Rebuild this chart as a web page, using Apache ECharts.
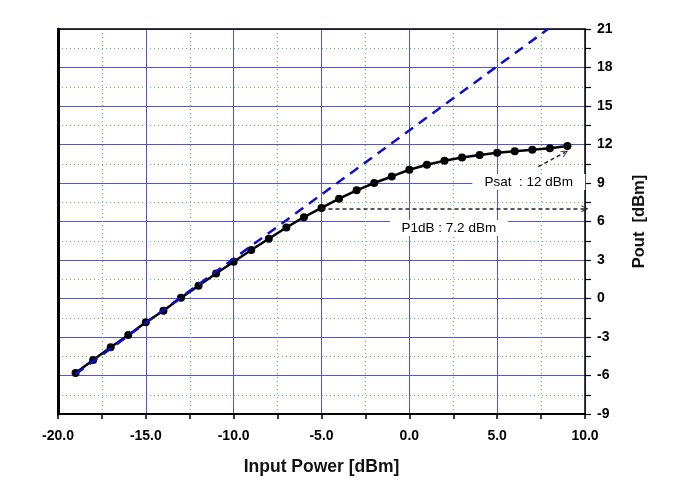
<!DOCTYPE html>
<html><head><meta charset="utf-8">
<script src="https://cdn.jsdelivr.net/npm/echarts@6/dist/echarts.min.js"></script>
<style>html,body{margin:0;padding:0;background:#fff}#c{width:693px;height:484px}</style>
</head><body><div id="c"></div>
<script>
var inputPower = [-19,-18,-17,-16,-15,-14,-13,-12,-11,-10,-9,-8,-7,-6,-5,-4,-3,-2,-1,0,1,2,3,4,5,6,7,8,9];
var outputPower = [-5.8,-4.8,-3.8,-2.85,-1.85,-0.95,0.05,1.0,1.95,2.87,3.78,4.66,5.53,6.34,7.06,7.78,8.43,9.0,9.51,10.03,10.42,10.73,10.99,11.18,11.35,11.48,11.6,11.7,11.88];
var linearX = [-19, 7.9];
var linearY = [-5.9, 21];
var xTicks = [-20, -15, -10, -5, 0, 5, 10];
var yTicks = [-9, -6, -3, 0, 3, 6, 9, 12, 15, 18, 21];
var p1dbArrow = [[-5, 7.0], [10, 7.0]];
var psatArrow = [[7.34, 10.27], [8.86, 11.39]];
var p1dbLabel = {text: 'P1dB : 7.2 dBm', at: [2.25, 5.5]};
var psatLabel = {text: 'Psat  : 12 dBm', at: [6.8, 9.07]};

var chart = echarts.init(document.getElementById('c'), null, {renderer: 'canvas'});
var FONT = 'Liberation Sans, Arial, sans-serif';
var chevron = 'path://M0,10 L5,0 L10,10 L8.5,10 L5,3 L1.5,10 Z';
chart.setOption({
  animation: false,
  backgroundColor: '#fff',
  grid: {left: 58, right: 108, top: 29, bottom: 70},
  xAxis: [{
    type: 'value', min: xTicks[0], max: xTicks[xTicks.length-1], interval: 5, position: 'bottom',
    name: 'Input Power [dBm]', nameLocation: 'middle', nameGap: 44,
    nameTextStyle: {fontFamily: FONT, fontSize: 17.5, fontWeight: 'bold', color: '#111'},
    axisLine: {show: true, onZero: false, lineStyle: {color: '#000', width: 2}},
    axisTick: {show: true, inside: false, length: 5, lineStyle: {color: '#000', width: 1.5}},
    minorTick: {show: true, splitNumber: 2, length: 5, lineStyle: {color: '#000', width: 1.5}},
    axisLabel: {formatter: function(v){return v.toFixed(1);}, fontFamily: FONT, fontSize: 14, fontWeight: 'bold', color: '#000', margin: 15},
    splitLine: {show: true, lineStyle: {color: '#5252dc', width: 1}},
    minorSplitLine: {show: true, lineStyle: {color: '#60c060', width: 1, type: [1, 3]}}
  }, {
    type: 'value', min: xTicks[0], max: xTicks[xTicks.length-1], interval: 5, position: 'top',
    axisLine: {show: true, onZero: false, lineStyle: {color: '#000', width: 1.5}},
    axisTick: {show: false}, axisLabel: {show: false}, splitLine: {show: false}
  }],
  yAxis: [{
    type: 'value', min: yTicks[0], max: yTicks[yTicks.length-1], interval: 3, position: 'right',
    name: 'Pout  [dBm]', nameLocation: 'middle', nameGap: 46, nameRotate: 90,
    nameTextStyle: {fontFamily: FONT, fontSize: 16.5, fontWeight: 'bold', color: '#111'},
    axisLine: {show: true, onZero: false, lineStyle: {color: '#000', width: 1.5}},
    axisTick: {show: true, inside: false, length: 6, lineStyle: {color: '#000', width: 1.2}},
    minorTick: {show: true, splitNumber: 2, length: 6, lineStyle: {color: '#000', width: 1.2}},
    axisLabel: {fontFamily: FONT, fontSize: 14, fontWeight: 'bold', color: '#000', margin: 12},
    splitLine: {show: true, lineStyle: {color: '#5252dc', width: 1}},
    minorSplitLine: {show: true, lineStyle: {color: '#60c060', width: 1, type: [1, 3]}}
  }, {
    type: 'value', min: yTicks[0], max: yTicks[yTicks.length-1], interval: 3, position: 'left',
    axisLine: {show: true, onZero: false, lineStyle: {color: '#000', width: 3}},
    axisTick: {show: false}, axisLabel: {show: false}, splitLine: {show: false}
  }],
  series: [{
    type: 'line', xAxisIndex: 0, yAxisIndex: 0,
    data: inputPower.map(function(x, i){return [x, outputPower[i]];}),
    symbol: 'circle', symbolSize: 8, showSymbol: true,
    lineStyle: {color: '#000', width: 2.5}, itemStyle: {color: '#000'},
    z: 3,
    markLine: {
      silent: true, animation: false,
      symbol: ['none', chevron], symbolSize: [7, 7],
      lineStyle: {color: '#222', width: 1.5, type: [4, 3]},
      label: {show: false},
      data: [
        [{coord: p1dbArrow[0]}, {coord: p1dbArrow[1]}],
        [{coord: psatArrow[0]}, {coord: psatArrow[1]}]
      ]
    },
    markPoint: {
      silent: true, animation: false,
      symbol: 'rect',
      itemStyle: {color: '#fff'},
      label: {show: true, position: 'inside', color: '#000', fontFamily: FONT, fontSize: 13.5},
      data: [
        {coord: p1dbLabel.at, symbolSize: [118, 16], label: {formatter: p1dbLabel.text}},
        {coord: psatLabel.at, symbolSize: [113, 16], label: {formatter: psatLabel.text}}
      ]
    }
  }, {
    type: 'line', xAxisIndex: 0, yAxisIndex: 0,
    data: linearX.map(function(x, i){return [x, linearY[i]];}),
    symbol: 'none',
    lineStyle: {color: '#1010c8', width: 2.5, type: [10, 7]},
    z: 4
  }]
});
</script></body></html>
